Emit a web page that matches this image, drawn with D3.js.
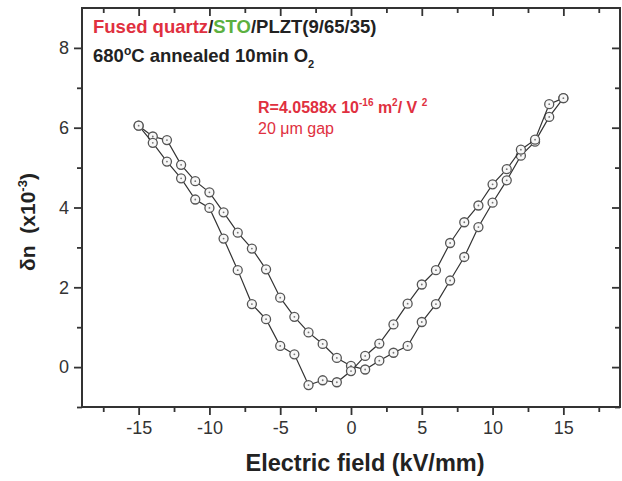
<!DOCTYPE html>
<html>
<head>
<meta charset="utf-8">
<script src="https://cdn.jsdelivr.net/npm/d3@7"></script>
<style>
  body { margin: 0; background: #fff; }
  text { font-family: "Liberation Sans", Arial, sans-serif; }
</style>
</head>
<body>
<div id="chart"></div>
<script>
// field steps, kV/mm
var field = [-15,-14,-13,-12,-11,-10,-9,-8,-7,-6,-5,-4,-3,-2,-1,0,1,2,3,4,5,6,7,8,9,10,11,12,13,14,15];

// sweep from -15 to +15 (upper branch on the left, lower on the right)
var sweepUp = [6.05,5.78,5.69,5.07,4.66,4.38,3.88,3.37,2.97,2.45,1.74,1.26,0.87,0.58,0.23,0.03,
               -0.06,0.16,0.36,0.53,1.13,1.58,2.17,2.76,3.51,4.12,4.68,5.30,5.65,6.27,6.74];

// sweep from +15 to -15 (lower branch on the left, upper on the right)
var sweepDown = [6.05,5.62,5.15,4.73,4.20,3.99,3.22,2.43,1.58,1.20,0.53,0.32,-0.45,-0.33,-0.38,-0.10,
                 0.28,0.59,1.07,1.59,2.07,2.43,3.11,3.63,4.05,4.58,4.96,5.45,5.70,6.59,6.74];

var xMajor = [-15,-10,-5,0,5,10,15];
var xMinor = [-17.5,-12.5,-7.5,-2.5,2.5,7.5,12.5,17.5];
var yMajor = [0,2,4,6,8];
var yMinor = [-1,1,3,5,7];

var width = 622;
var height = 481;
var margin = {top: 8, right: 2, bottom: 74, left: 82};
var innerW = width - margin.left - margin.right;
var innerH = height - margin.top - margin.bottom;
var axisColor = "#333";

var svg = d3.select("#chart")
    .append("svg")
    .attr("width", width)
    .attr("height", height);

var g = svg.append("g")
    .attr("transform", "translate(" + margin.left + "," + margin.top + ")");

var x = d3.scaleLinear().domain([-19, 19]).range([0, innerW]);
var y = d3.scaleLinear().domain([-1, 9]).range([innerH, 0]);

var plainFormat = function(d){ return String(d); };

// ticks: outward on bottom / left, inward on top / right
function styleAxis(sel) {
    sel.select(".domain").remove();
    sel.selectAll("line").attr("stroke", axisColor).attr("stroke-width", 1.8);
    sel.selectAll("text").attr("fill", "#333").style("font-size", "18px");
}

g.append("g").attr("transform", "translate(0," + innerH + ")")
    .call(d3.axisBottom(x).tickValues(xMajor).tickSize(8).tickPadding(6).tickFormat(plainFormat))
    .call(styleAxis);
g.append("g").attr("transform", "translate(0," + innerH + ")")
    .call(d3.axisBottom(x).tickValues(xMinor).tickSize(5).tickFormat(""))
    .call(styleAxis);
g.append("g")
    .call(d3.axisTop(x).tickValues(xMajor).tickSize(-8).tickFormat(""))
    .call(styleAxis);
g.append("g")
    .call(d3.axisTop(x).tickValues(xMinor).tickSize(-5).tickFormat(""))
    .call(styleAxis);

g.append("g")
    .call(d3.axisLeft(y).tickValues(yMajor).tickSize(8).tickPadding(5).tickFormat(plainFormat))
    .call(styleAxis);
g.append("g")
    .call(d3.axisLeft(y).tickValues(yMinor).tickSize(5).tickFormat(""))
    .call(styleAxis);
g.append("g").attr("transform", "translate(" + innerW + ",0)")
    .call(d3.axisRight(y).tickValues(yMajor).tickSize(-8).tickFormat(""))
    .call(styleAxis);
g.append("g").attr("transform", "translate(" + innerW + ",0)")
    .call(d3.axisRight(y).tickValues(yMinor).tickSize(-5).tickFormat(""))
    .call(styleAxis);

// frame
g.append("rect")
    .attr("width", innerW)
    .attr("height", innerH)
    .attr("fill", "none")
    .attr("stroke", axisColor)
    .attr("stroke-width", 2);

// data
var line = d3.line()
    .x(function(d){ return x(d[0]); })
    .y(function(d){ return y(d[1]); });

[sweepUp, sweepDown].forEach(function(series){
    var pts = field.map(function(f, i){ return [f, series[i]]; });

    g.append("path")
        .datum(pts)
        .attr("d", line)
        .attr("fill", "none")
        .attr("stroke", "#333")
        .attr("stroke-width", 1.2);

    var dots = g.append("g").selectAll("g")
        .data(pts)
        .enter().append("g")
        .attr("transform", function(d){ return "translate(" + x(d[0]) + "," + y(d[1]) + ")"; });
    dots.append("circle")
        .attr("r", 4.5)
        .attr("fill", "#f7f7f7")
        .attr("stroke", "#555")
        .attr("stroke-width", 1.3);
    dots.append("circle")
        .attr("r", 0.9)
        .attr("fill", "#777");
});

// annotations
var t1 = svg.append("text")
    .attr("x", 93).attr("y", 33)
    .attr("font-weight", "bold")
    .style("font-size", "18.5px");
t1.append("tspan").attr("fill", "#e03040").text("Fused quartz");
t1.append("tspan").attr("fill", "#222").text("/");
t1.append("tspan").attr("fill", "#5cb040").text("STO");
t1.append("tspan").attr("fill", "#222").text("/PLZT(9/65/35)");

var t2 = svg.append("text")
    .attr("x", 93).attr("y", 62)
    .attr("font-weight", "bold")
    .attr("fill", "#222")
    .style("font-size", "18.5px");
t2.append("tspan").text("680");
t2.append("tspan").attr("dy", -7).style("font-size", "12px").text("o");
t2.append("tspan").attr("dy", 7).text("C annealed 10min O");
t2.append("tspan").attr("dy", 6).style("font-size", "11px").text("2");

var t3 = svg.append("text")
    .attr("x", 258).attr("y", 113)
    .attr("font-weight", "bold")
    .attr("fill", "#e03040")
    .style("font-size", "16px");
t3.append("tspan").text("R=4.0588x 10");
t3.append("tspan").attr("dy", -7).style("font-size", "10px").text("-16");
t3.append("tspan").attr("dy", 7).text(" m");
t3.append("tspan").attr("dy", -7).style("font-size", "10px").text("2");
t3.append("tspan").attr("dy", 7).text("/ V ");
t3.append("tspan").attr("dy", -7).style("font-size", "10px").text("2");

svg.append("text")
    .attr("x", 258).attr("y", 134)
    .attr("fill", "#e03040")
    .style("font-size", "16px")
    .text("20 \u03bcm gap");

// axis titles
svg.append("text")
    .attr("x", margin.left + x(0) + 14).attr("y", 471)
    .attr("text-anchor", "middle")
    .attr("font-weight", "bold")
    .attr("fill", "#222")
    .style("font-size", "23.5px")
    .text("Electric field (kV/mm)");

var yt = svg.append("text")
    .attr("transform", "translate(35,222) rotate(-90)")
    .attr("text-anchor", "middle")
    .attr("font-weight", "bold")
    .attr("fill", "#222")
    .style("font-size", "21px");
yt.append("tspan").text("\u03b4n\u00a0\u00a0(x10");
yt.append("tspan").attr("dy", -8).style("font-size", "13px").text("-3");
yt.append("tspan").attr("dy", 8).text(")");
</script>
</body>
</html>
